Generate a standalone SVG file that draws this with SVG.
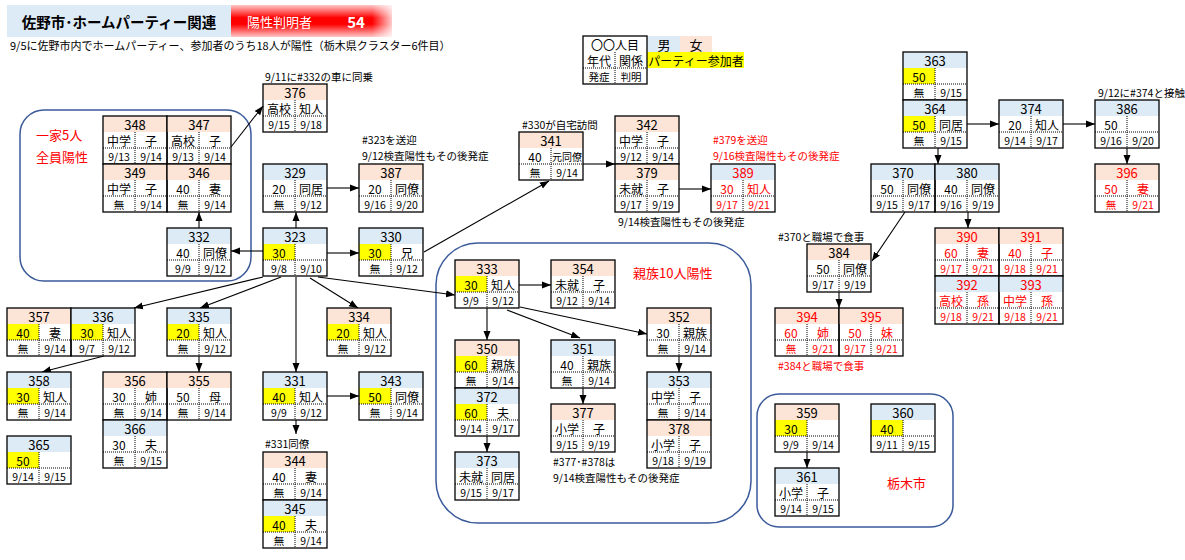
<svg xmlns="http://www.w3.org/2000/svg" xmlns:xlink="http://www.w3.org/1999/xlink" width="1185" height="560" viewBox="0 0 1185 560">
<style>
text{font-family:"Noto Sans CJK JP","Noto Sans CJK SC",sans-serif;text-anchor:middle;dominant-baseline:central;fill:#000}
.bd{fill:none;stroke:#000;stroke-width:1.3}
.dt{stroke:#000;stroke-width:1;stroke-dasharray:1 1}
.m{fill:#DDEBF7}.f{fill:#FCE4D6}.y{fill:#FFFF00}
.h{font-size:13px}.c{font-size:12px}.s{font-size:10.5px}
.r text{fill:#FF0000}
.lb{font-size:10.5px;text-anchor:start}
.red{fill:#FF0000}
.big{font-size:13px;text-anchor:start;fill:#FF0000}
.grp{fill:none;stroke:#3A5A9A;stroke-width:1.5}
#connectors line,#connectors path{stroke:#000;stroke-width:1.1;fill:none;marker-end:url(#ah)}
</style>
<defs>
<marker id="ah" markerWidth="9" markerHeight="8" refX="9" refY="4" orient="auto" markerUnits="userSpaceOnUse"><path d="M0,0.5 L9,4 L0,7.5z" fill="#000"/></marker>
<g id="fr"><line class="dt" x1="32" y1="16" x2="32" y2="48"/><line class="dt" x1="0" y1="32" x2="64" y2="32"/><rect class="bd" x="0" y="0" width="64" height="48"/></g>
<linearGradient id="rg" x1="0" y1="0" x2="0" y2="1"><stop offset="0" stop-color="#FFC8C8"/><stop offset="0.4" stop-color="#FF0000"/><stop offset="0.6" stop-color="#FF0000"/><stop offset="1" stop-color="#FFC8C8"/></linearGradient>
<linearGradient id="rf" x1="0" y1="0" x2="1" y2="0"><stop offset="0" stop-color="#fff" stop-opacity="0"/><stop offset="1" stop-color="#fff" stop-opacity="0.8"/></linearGradient>
</defs>
<rect width="1185" height="560" fill="#fff"/>

<g id="title">
<rect x="7" y="5" width="224" height="32" fill="#DDEBF7"/>
<text x="119" y="21" font-size="14.5" font-weight="bold">佐野市･ホームパーティー関連</text>
<rect x="231" y="5" width="161" height="32" fill="url(#rg)"/>
<rect x="372" y="5" width="20" height="32" fill="url(#rf)"/>
<text x="247" y="21" style="font-size:13px;text-anchor:start;fill:#fff">陽性判明者</text>
<text x="356" y="21" style="font-size:15px;font-weight:bold;fill:#fff">54</text>
<text x="10" y="45" class="lb" style="font-size:11px">9/5に佐野市内でホームパーティー、参加者のうち18人が陽性（栃木県クラスター6件目）</text>
</g>

<g id="legend">
<rect x="647" y="36" width="33" height="16" class="m"/>
<rect x="680" y="36" width="32" height="16" class="f"/>
<rect x="647" y="52" width="97" height="16" class="y"/>
<text x="664" y="44" class="h">男</text><text x="696" y="44" class="h">女</text>
<text x="696" y="60" class="c">パーティー参加者</text>
<g transform="translate(583,36)"><use href="#fr"/><text class="c" x="32" y="8">〇〇人目</text><text class="c" x="16" y="24">年代</text><text class="c" x="48" y="24">関係</text><text class="s" x="16" y="40">発症</text><text class="s" x="48" y="40">判明</text></g>
</g>

<g id="groups">
<rect class="grp" x="20" y="110" width="231" height="171" rx="24"/>
<rect class="grp" x="436" y="243" width="315" height="280" rx="42"/>
<rect class="grp" x="757" y="394" width="196" height="133" rx="22"/>
</g>

<g id="labels">
<text class="big" x="36" y="134">一家5人</text>
<text class="big" x="36" y="156">全員陽性</text>
<text class="big" x="633" y="272">親族10人陽性</text>
<text class="big" x="887" y="482">栃木市</text>
<text class="lb" x="265" y="76">9/11に#332の車に同乗</text>
<text class="lb" x="362" y="139">#323を送迎</text>
<text class="lb" x="362" y="155">9/12検査陽性もその後発症</text>
<text class="lb" x="522" y="124">#330が自宅訪問</text>
<text class="lb red" x="713" y="139">#379を送迎</text>
<text class="lb red" x="713" y="155">9/16検査陽性もその後発症</text>
<text class="lb" x="618" y="221">9/14検査陽性もその後発症</text>
<text class="lb" x="1098" y="92">9/12に#374と接触</text>
<text class="lb" x="778" y="236">#370と職場で食事</text>
<text class="lb red" x="778" y="365">#384と職場で食事</text>
<text class="lb" x="265" y="443">#331同僚</text>
<text class="lb" x="553" y="461">#377･#378は</text>
<text class="lb" x="553" y="477">9/14検査陽性もその後発症</text>
</g>

<g id="connectors">
<line x1="231" y1="147" x2="263" y2="106"/>
<line x1="199" y1="228" x2="199" y2="212"/>
<line x1="263" y1="251" x2="231" y2="251"/>
<line x1="296" y1="228" x2="296" y2="212"/>
<line x1="327" y1="188" x2="359" y2="188"/>
<line x1="327" y1="253" x2="359" y2="253"/>
<line x1="424" y1="252" x2="549" y2="181"/>
<line x1="583" y1="164" x2="615" y2="164"/>
<line x1="679" y1="189" x2="711" y2="189"/>
<line x1="967" y1="124" x2="999" y2="124"/>
<line x1="1063" y1="124" x2="1095" y2="124"/>
<line x1="1127" y1="148" x2="1127" y2="164"/>
<line x1="938" y1="148" x2="938" y2="164"/>
<line x1="968" y1="212" x2="968" y2="228"/>
<line x1="905" y1="212" x2="872" y2="261"/>
<line x1="839" y1="292" x2="839" y2="308"/>
<line x1="263" y1="277" x2="134" y2="308"/>
<line x1="281" y1="277" x2="200" y2="308"/>
<line x1="296" y1="277" x2="296" y2="372"/>
<line x1="310" y1="278" x2="358" y2="308"/>
<line x1="318" y1="277" x2="455" y2="295"/>
<line x1="104" y1="356" x2="42" y2="372"/>
<line x1="199" y1="356" x2="199" y2="372"/>
<line x1="327" y1="396" x2="359" y2="396"/>
<line x1="296" y1="420" x2="296" y2="434"/>
<line x1="519" y1="285" x2="551" y2="285"/>
<line x1="487" y1="308" x2="487" y2="340"/>
<line x1="507" y1="310" x2="580" y2="338"/>
<line x1="520" y1="307" x2="647" y2="334"/>
<line x1="583" y1="388" x2="583" y2="404"/>
<line x1="679" y1="356" x2="679" y2="372"/>
<line x1="487" y1="436" x2="487" y2="452"/>
<line x1="807" y1="452" x2="807" y2="468"/>
</g>

<g id="n348" transform="translate(103,116)"><rect class="f" width="64" height="16"/><use href="#fr"/><text class="h" x="32" y="8">348</text><text class="c" x="16" y="24">中学</text><text class="c" x="48" y="24">子</text><text class="s" x="16" y="40">9/13</text><text class="s" x="48" y="40">9/14</text></g>
<g id="n347" transform="translate(167,116)"><rect class="f" width="64" height="16"/><use href="#fr"/><text class="h" x="32" y="8">347</text><text class="c" x="16" y="24">高校</text><text class="c" x="48" y="24">子</text><text class="s" x="16" y="40">9/13</text><text class="s" x="48" y="40">9/14</text></g>
<g id="n349" transform="translate(103,164)"><rect class="f" width="64" height="16"/><use href="#fr"/><text class="h" x="32" y="8">349</text><text class="c" x="16" y="24">中学</text><text class="c" x="48" y="24">子</text><text class="s" x="16" y="40">無</text><text class="s" x="48" y="40">9/14</text></g>
<g id="n346" transform="translate(167,164)"><rect class="f" width="64" height="16"/><use href="#fr"/><text class="h" x="32" y="8">346</text><text class="c" x="16" y="24">40</text><text class="c" x="48" y="24">妻</text><text class="s" x="16" y="40">無</text><text class="s" x="48" y="40">9/14</text></g>
<g id="n332" transform="translate(167,228)"><rect class="m" width="64" height="16"/><use href="#fr"/><text class="h" x="32" y="8">332</text><text class="c" x="16" y="24">40</text><text class="c" x="48" y="24">同僚</text><text class="s" x="16" y="40">9/9</text><text class="s" x="48" y="40">9/12</text></g>
<g id="n376" transform="translate(263,84)"><rect class="f" width="64" height="16"/><use href="#fr"/><text class="h" x="32" y="8">376</text><text class="c" x="16" y="24">高校</text><text class="c" x="48" y="24">知人</text><text class="s" x="16" y="40">9/15</text><text class="s" x="48" y="40">9/18</text></g>
<g id="n329" transform="translate(263,164)"><rect class="m" width="64" height="16"/><use href="#fr"/><text class="h" x="32" y="8">329</text><text class="c" x="16" y="24">20</text><text class="c" x="48" y="24">同居</text><text class="s" x="16" y="40">無</text><text class="s" x="48" y="40">9/12</text></g>
<g id="n323" transform="translate(263,228)"><rect class="m" width="64" height="16"/><rect class="y" y="16" width="32" height="16"/><use href="#fr"/><text class="h" x="32" y="8">323</text><text class="c" x="16" y="24">30</text><text class="s" x="16" y="40">9/8</text><text class="s" x="48" y="40">9/10</text></g>
<g id="n387" transform="translate(359,164)"><rect class="f" width="64" height="16"/><use href="#fr"/><text class="h" x="32" y="8">387</text><text class="c" x="16" y="24">20</text><text class="c" x="48" y="24">同僚</text><text class="s" x="16" y="40">9/16</text><text class="s" x="48" y="40">9/20</text></g>
<g id="n330" transform="translate(359,228)"><rect class="m" width="64" height="16"/><rect class="y" y="16" width="32" height="16"/><use href="#fr"/><text class="h" x="32" y="8">330</text><text class="c" x="16" y="24">30</text><text class="c" x="48" y="24">兄</text><text class="s" x="16" y="40">無</text><text class="s" x="48" y="40">9/12</text></g>
<g id="n341" transform="translate(519,132)"><rect class="f" width="64" height="16"/><use href="#fr"/><text class="h" x="32" y="8">341</text><text class="c" x="16" y="24">40</text><text class="c" x="48" y="24" style="font-size:10px">元同僚</text><text class="s" x="16" y="40">無</text><text class="s" x="48" y="40">9/14</text></g>
<g id="n342" transform="translate(615,116)"><rect class="f" width="64" height="16"/><use href="#fr"/><text class="h" x="32" y="8">342</text><text class="c" x="16" y="24">中学</text><text class="c" x="48" y="24">子</text><text class="s" x="16" y="40">9/12</text><text class="s" x="48" y="40">9/14</text></g>
<g id="n379" transform="translate(615,164)"><rect class="f" width="64" height="16"/><use href="#fr"/><text class="h" x="32" y="8">379</text><text class="c" x="16" y="24">未就</text><text class="c" x="48" y="24">子</text><text class="s" x="16" y="40">9/17</text><text class="s" x="48" y="40">9/19</text></g>
<g id="n389" class="r" transform="translate(711,164)"><rect class="m" width="64" height="16"/><use href="#fr"/><text class="h" x="32" y="8">389</text><text class="c" x="16" y="24">30</text><text class="c" x="48" y="24">知人</text><text class="s" x="16" y="40">9/17</text><text class="s" x="48" y="40">9/21</text></g>
<g id="n363" transform="translate(903,52)"><rect class="m" width="64" height="16"/><rect class="y" y="16" width="32" height="16"/><use href="#fr"/><text class="h" x="32" y="8">363</text><text class="c" x="16" y="24">50</text><text class="s" x="16" y="40">無</text><text class="s" x="48" y="40">9/15</text></g>
<g id="n364" transform="translate(903,100)"><rect class="m" width="64" height="16"/><rect class="y" y="16" width="32" height="16"/><use href="#fr"/><text class="h" x="32" y="8">364</text><text class="c" x="16" y="24">50</text><text class="c" x="48" y="24">同居</text><text class="s" x="16" y="40">無</text><text class="s" x="48" y="40">9/15</text></g>
<g id="n374" transform="translate(999,100)"><rect class="m" width="64" height="16"/><use href="#fr"/><text class="h" x="32" y="8">374</text><text class="c" x="16" y="24">20</text><text class="c" x="48" y="24">知人</text><text class="s" x="16" y="40">9/14</text><text class="s" x="48" y="40">9/17</text></g>
<g id="n386" transform="translate(1095,100)"><rect class="m" width="64" height="16"/><use href="#fr"/><text class="h" x="32" y="8">386</text><text class="c" x="16" y="24">50</text><text class="s" x="16" y="40">9/16</text><text class="s" x="48" y="40">9/20</text></g>
<g id="n396" class="r" transform="translate(1095,164)"><rect class="f" width="64" height="16"/><use href="#fr"/><text class="h" x="32" y="8">396</text><text class="c" x="16" y="24">50</text><text class="c" x="48" y="24">妻</text><text class="s" x="16" y="40">無</text><text class="s" x="48" y="40">9/21</text></g>
<g id="n370" transform="translate(871,164)"><rect class="m" width="64" height="16"/><use href="#fr"/><text class="h" x="32" y="8">370</text><text class="c" x="16" y="24">50</text><text class="c" x="48" y="24">同僚</text><text class="s" x="16" y="40">9/15</text><text class="s" x="48" y="40">9/17</text></g>
<g id="n380" transform="translate(935,164)"><rect class="m" width="64" height="16"/><use href="#fr"/><text class="h" x="32" y="8">380</text><text class="c" x="16" y="24">40</text><text class="c" x="48" y="24">同僚</text><text class="s" x="16" y="40">9/16</text><text class="s" x="48" y="40">9/19</text></g>
<g id="n390" class="r" transform="translate(935,228)"><rect class="f" width="64" height="16"/><use href="#fr"/><text class="h" x="32" y="8">390</text><text class="c" x="16" y="24">60</text><text class="c" x="48" y="24">妻</text><text class="s" x="16" y="40">9/17</text><text class="s" x="48" y="40">9/21</text></g>
<g id="n391" class="r" transform="translate(999,228)"><rect class="f" width="64" height="16"/><use href="#fr"/><text class="h" x="32" y="8">391</text><text class="c" x="16" y="24">40</text><text class="c" x="48" y="24">子</text><text class="s" x="16" y="40">9/18</text><text class="s" x="48" y="40">9/21</text></g>
<g id="n392" class="r" transform="translate(935,276)"><rect class="m" width="64" height="16"/><use href="#fr"/><text class="h" x="32" y="8">392</text><text class="c" x="16" y="24">高校</text><text class="c" x="48" y="24">孫</text><text class="s" x="16" y="40">9/18</text><text class="s" x="48" y="40">9/21</text></g>
<g id="n393" class="r" transform="translate(999,276)"><rect class="m" width="64" height="16"/><use href="#fr"/><text class="h" x="32" y="8">393</text><text class="c" x="16" y="24">中学</text><text class="c" x="48" y="24">孫</text><text class="s" x="16" y="40">9/18</text><text class="s" x="48" y="40">9/21</text></g>
<g id="n384" transform="translate(807,244)"><rect class="f" width="64" height="16"/><use href="#fr"/><text class="h" x="32" y="8">384</text><text class="c" x="16" y="24">50</text><text class="c" x="48" y="24">同僚</text><text class="s" x="16" y="40">9/17</text><text class="s" x="48" y="40">9/19</text></g>
<g id="n394" class="r" transform="translate(775,308)"><rect class="f" width="64" height="16"/><use href="#fr"/><text class="h" x="32" y="8">394</text><text class="c" x="16" y="24">60</text><text class="c" x="48" y="24">姉</text><text class="s" x="16" y="40">無</text><text class="s" x="48" y="40">9/21</text></g>
<g id="n395" class="r" transform="translate(839,308)"><rect class="f" width="64" height="16"/><use href="#fr"/><text class="h" x="32" y="8">395</text><text class="c" x="16" y="24">50</text><text class="c" x="48" y="24">妹</text><text class="s" x="16" y="40">9/17</text><text class="s" x="48" y="40">9/21</text></g>
<g id="n333" transform="translate(455,260)"><rect class="f" width="64" height="16"/><rect class="y" y="16" width="32" height="16"/><use href="#fr"/><text class="h" x="32" y="8">333</text><text class="c" x="16" y="24">30</text><text class="c" x="48" y="24">知人</text><text class="s" x="16" y="40">9/9</text><text class="s" x="48" y="40">9/12</text></g>
<g id="n354" transform="translate(551,260)"><rect class="f" width="64" height="16"/><use href="#fr"/><text class="h" x="32" y="8">354</text><text class="c" x="16" y="24">未就</text><text class="c" x="48" y="24">子</text><text class="s" x="16" y="40">9/12</text><text class="s" x="48" y="40">9/14</text></g>
<g id="n350" transform="translate(455,340)"><rect class="f" width="64" height="16"/><rect class="y" y="16" width="32" height="16"/><use href="#fr"/><text class="h" x="32" y="8">350</text><text class="c" x="16" y="24">60</text><text class="c" x="48" y="24">親族</text><text class="s" x="16" y="40">無</text><text class="s" x="48" y="40">9/14</text></g>
<g id="n372" transform="translate(455,388)"><rect class="m" width="64" height="16"/><rect class="y" y="16" width="32" height="16"/><use href="#fr"/><text class="h" x="32" y="8">372</text><text class="c" x="16" y="24">60</text><text class="c" x="48" y="24">夫</text><text class="s" x="16" y="40">9/14</text><text class="s" x="48" y="40">9/17</text></g>
<g id="n373" transform="translate(455,452)"><rect class="m" width="64" height="16"/><use href="#fr"/><text class="h" x="32" y="8">373</text><text class="c" x="16" y="24">未就</text><text class="c" x="48" y="24">同居</text><text class="s" x="16" y="40">9/15</text><text class="s" x="48" y="40">9/17</text></g>
<g id="n351" transform="translate(551,340)"><rect class="m" width="64" height="16"/><use href="#fr"/><text class="h" x="32" y="8">351</text><text class="c" x="16" y="24">40</text><text class="c" x="48" y="24">親族</text><text class="s" x="16" y="40">無</text><text class="s" x="48" y="40">9/14</text></g>
<g id="n377" transform="translate(551,404)"><rect class="f" width="64" height="16"/><use href="#fr"/><text class="h" x="32" y="8">377</text><text class="c" x="16" y="24">小学</text><text class="c" x="48" y="24">子</text><text class="s" x="16" y="40">9/15</text><text class="s" x="48" y="40">9/19</text></g>
<g id="n352" transform="translate(647,308)"><rect class="f" width="64" height="16"/><use href="#fr"/><text class="h" x="32" y="8">352</text><text class="c" x="16" y="24">30</text><text class="c" x="48" y="24">親族</text><text class="s" x="16" y="40">無</text><text class="s" x="48" y="40">9/14</text></g>
<g id="n353" transform="translate(647,372)"><rect class="m" width="64" height="16"/><use href="#fr"/><text class="h" x="32" y="8">353</text><text class="c" x="16" y="24">中学</text><text class="c" x="48" y="24">子</text><text class="s" x="16" y="40">無</text><text class="s" x="48" y="40">9/14</text></g>
<g id="n378" transform="translate(647,420)"><rect class="f" width="64" height="16"/><use href="#fr"/><text class="h" x="32" y="8">378</text><text class="c" x="16" y="24">小学</text><text class="c" x="48" y="24">子</text><text class="s" x="16" y="40">9/18</text><text class="s" x="48" y="40">9/19</text></g>
<g id="n357" transform="translate(7,308)"><rect class="f" width="64" height="16"/><rect class="y" y="16" width="32" height="16"/><use href="#fr"/><text class="h" x="32" y="8">357</text><text class="c" x="16" y="24">40</text><text class="c" x="48" y="24">妻</text><text class="s" x="16" y="40">無</text><text class="s" x="48" y="40">9/14</text></g>
<g id="n336" transform="translate(71,308)"><rect class="m" width="64" height="16"/><rect class="y" y="16" width="32" height="16"/><use href="#fr"/><text class="h" x="32" y="8">336</text><text class="c" x="16" y="24">30</text><text class="c" x="48" y="24">知人</text><text class="s" x="16" y="40">9/7</text><text class="s" x="48" y="40">9/12</text></g>
<g id="n358" transform="translate(7,372)"><rect class="m" width="64" height="16"/><rect class="y" y="16" width="32" height="16"/><use href="#fr"/><text class="h" x="32" y="8">358</text><text class="c" x="16" y="24">30</text><text class="c" x="48" y="24">知人</text><text class="s" x="16" y="40">無</text><text class="s" x="48" y="40">9/14</text></g>
<g id="n365" transform="translate(7,436)"><rect class="m" width="64" height="16"/><rect class="y" y="16" width="32" height="16"/><use href="#fr"/><text class="h" x="32" y="8">365</text><text class="c" x="16" y="24">50</text><text class="s" x="16" y="40">9/14</text><text class="s" x="48" y="40">9/15</text></g>
<g id="n335" transform="translate(167,308)"><rect class="m" width="64" height="16"/><rect class="y" y="16" width="32" height="16"/><use href="#fr"/><text class="h" x="32" y="8">335</text><text class="c" x="16" y="24">20</text><text class="c" x="48" y="24">知人</text><text class="s" x="16" y="40">無</text><text class="s" x="48" y="40">9/12</text></g>
<g id="n356" transform="translate(103,372)"><rect class="f" width="64" height="16"/><use href="#fr"/><text class="h" x="32" y="8">356</text><text class="c" x="16" y="24">30</text><text class="c" x="48" y="24">姉</text><text class="s" x="16" y="40">無</text><text class="s" x="48" y="40">9/14</text></g>
<g id="n355" transform="translate(167,372)"><rect class="f" width="64" height="16"/><use href="#fr"/><text class="h" x="32" y="8">355</text><text class="c" x="16" y="24">50</text><text class="c" x="48" y="24">母</text><text class="s" x="16" y="40">無</text><text class="s" x="48" y="40">9/14</text></g>
<g id="n366" transform="translate(103,420)"><rect class="m" width="64" height="16"/><use href="#fr"/><text class="h" x="32" y="8">366</text><text class="c" x="16" y="24">30</text><text class="c" x="48" y="24">夫</text><text class="s" x="16" y="40">無</text><text class="s" x="48" y="40">9/15</text></g>
<g id="n334" transform="translate(327,308)"><rect class="f" width="64" height="16"/><rect class="y" y="16" width="32" height="16"/><use href="#fr"/><text class="h" x="32" y="8">334</text><text class="c" x="16" y="24">20</text><text class="c" x="48" y="24">知人</text><text class="s" x="16" y="40">無</text><text class="s" x="48" y="40">9/12</text></g>
<g id="n331" transform="translate(263,372)"><rect class="m" width="64" height="16"/><rect class="y" y="16" width="32" height="16"/><use href="#fr"/><text class="h" x="32" y="8">331</text><text class="c" x="16" y="24">40</text><text class="c" x="48" y="24">知人</text><text class="s" x="16" y="40">9/9</text><text class="s" x="48" y="40">9/12</text></g>
<g id="n343" transform="translate(359,372)"><rect class="m" width="64" height="16"/><rect class="y" y="16" width="32" height="16"/><use href="#fr"/><text class="h" x="32" y="8">343</text><text class="c" x="16" y="24">50</text><text class="c" x="48" y="24">同僚</text><text class="s" x="16" y="40">無</text><text class="s" x="48" y="40">9/14</text></g>
<g id="n344" transform="translate(263,452)"><rect class="f" width="64" height="16"/><use href="#fr"/><text class="h" x="32" y="8">344</text><text class="c" x="16" y="24">40</text><text class="c" x="48" y="24">妻</text><text class="s" x="16" y="40">無</text><text class="s" x="48" y="40">9/14</text></g>
<g id="n345" transform="translate(263,500)"><rect class="m" width="64" height="16"/><rect class="y" y="16" width="32" height="16"/><use href="#fr"/><text class="h" x="32" y="8">345</text><text class="c" x="16" y="24">40</text><text class="c" x="48" y="24">夫</text><text class="s" x="16" y="40">無</text><text class="s" x="48" y="40">9/14</text></g>
<g id="n359" transform="translate(775,404)"><rect class="f" width="64" height="16"/><rect class="y" y="16" width="32" height="16"/><use href="#fr"/><text class="h" x="32" y="8">359</text><text class="c" x="16" y="24">30</text><text class="s" x="16" y="40">9/9</text><text class="s" x="48" y="40">9/14</text></g>
<g id="n360" transform="translate(871,404)"><rect class="m" width="64" height="16"/><rect class="y" y="16" width="32" height="16"/><use href="#fr"/><text class="h" x="32" y="8">360</text><text class="c" x="16" y="24">40</text><text class="s" x="16" y="40">9/11</text><text class="s" x="48" y="40">9/15</text></g>
<g id="n361" transform="translate(775,468)"><rect class="m" width="64" height="16"/><use href="#fr"/><text class="h" x="32" y="8">361</text><text class="c" x="16" y="24">小学</text><text class="c" x="48" y="24">子</text><text class="s" x="16" y="40">9/14</text><text class="s" x="48" y="40">9/15</text></g>
</svg>
